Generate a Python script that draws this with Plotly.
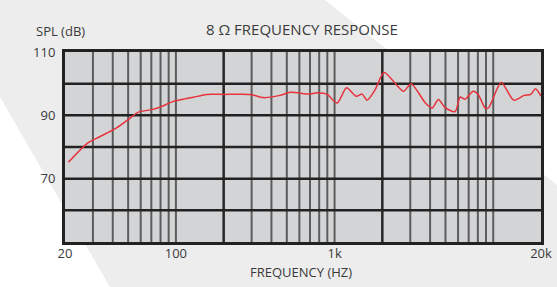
import plotly.graph_objects as go

# ---- data ----
freq_hz = [21, 27.4, 31.7, 41.3, 49, 58, 70.4, 79.4, 96.4, 114, 129, 156, 200, 294, 356, 453,
           527, 688, 776, 897, 1038, 1191, 1368, 1491, 1603, 1802, 2053, 2716, 3039, 3724,
           4122, 4516, 4978, 5754, 6188, 6652, 7475, 8036, 8933, 9355, 11220, 13460, 15670,
           17230, 18460, 20000]
spl_db = [75.2, 81.0, 82.8, 85.7, 88.3, 91.0, 91.8, 92.6, 94.4, 95.2, 95.7, 96.6, 96.6, 96.6, 95.6, 96.3,
          97.3, 96.7, 97.1, 96.6, 93.9, 98.7, 96.0, 96.7, 94.8, 98.1, 103.5, 97.6, 100.0, 94.0,
          92.3, 95.0, 92.4, 91.2, 95.8, 95.1, 97.6, 96.6, 92.2, 92.4, 100.4, 94.8, 96.3,
          96.6, 98.4, 96.1]

x_tick_vals = [20, 100, 1000, 20000]
x_tick_text = ["20", "100", "1k", "20k"]
y_tick_vals = [70, 90, 110]
minor_grid_hz = [30, 40, 50, 60, 70, 80, 90, 100, 300, 400, 500, 600, 700, 800, 900, 1000,
                 3000, 4000, 5000, 6000, 7000, 8000, 9000, 10000]
major_grid_hz = [200, 2000]
h_grid_db = [60, 70, 80, 90, 100]

TEXT = "#3a3a3a"
FONT = "Open Sans"

fig = go.Figure()
fig.add_trace(go.Scatter(
    x=freq_hz, y=spl_db, mode="lines",
    line=dict(color="#e8323c", width=1.5, shape="spline", smoothing=0.7),
    hoverinfo="skip", showlegend=False))

shapes = []
# background diagonal grey band (paper coords)
shapes.append(dict(type="path", xref="paper", yref="paper", layer="below",
                   path="M -0.1366,1.2737 L 0.5462,1.2737 L 1.0336,0.30 L 1.0336,-0.2368 L 0.0945,-0.2368 L -0.1366,0.7632 Z",
                   fillcolor="#ededed", line=dict(width=0)))
# plot area background
shapes.append(dict(type="rect", xref="paper", yref="paper", layer="below",
                   x0=0, x1=1, y0=0, y1=1, fillcolor="#d3d4d6", line=dict(width=0)))
for f in minor_grid_hz:
    shapes.append(dict(type="line", xref="x", yref="paper", x0=f, x1=f, y0=0, y1=1,
                       layer="below", line=dict(color="#5c5c5c", width=2)))
for f in major_grid_hz:
    shapes.append(dict(type="line", xref="x", yref="paper", x0=f, x1=f, y0=0, y1=1,
                       layer="below", line=dict(color="#262626", width=2.5)))
for d in h_grid_db:
    shapes.append(dict(type="line", xref="paper", yref="y", x0=0, x1=1, y0=d, y1=d,
                       layer="below", line=dict(color="#222222", width=2.5)))

fig.update_layout(
    width=557, height=287,
    margin=dict(l=65, r=16, t=52, b=45),
    paper_bgcolor="white", plot_bgcolor="rgba(0,0,0,0)",
    font=dict(family=FONT, color=TEXT, size=13),
    shapes=shapes,
    xaxis=dict(type="log", range=[1.30103, 4.30103], tickvals=x_tick_vals, ticktext=x_tick_text,
               showgrid=False, zeroline=False, ticks="", showline=True, mirror=True,
               linecolor="#222222", linewidth=3, tickfont=dict(size=13, color=TEXT),
               ticklabelstandoff=-3, automargin=False),
    yaxis=dict(range=[50, 110], tickvals=y_tick_vals, showgrid=False, zeroline=False, ticks="",
               showline=True, mirror=True, linecolor="#222222", linewidth=3,
               tickfont=dict(size=13, color=TEXT), ticklabelstandoff=4, automargin=False),
    annotations=[
        dict(text="SPL (dB)", xref="paper", yref="paper", x=-0.0095, y=1.1105, xanchor="center",
             yanchor="middle", showarrow=False, font=dict(size=13, color=TEXT)),
        dict(text="8 Ω FREQUENCY RESPONSE", xref="paper", yref="paper", x=0.498, y=1.121,
             xanchor="center", yanchor="middle", showarrow=False, font=dict(size=15, color=TEXT)),
        dict(text="FREQUENCY (HZ)", xref="paper", yref="paper", x=0.496, y=-0.158,
             xanchor="center", yanchor="middle", showarrow=False, font=dict(size=13, color=TEXT)),
    ],
)

fig.write_html("out.html", config={"displayModeBar": False},
               post_script="document.body.style.margin='0';document.body.style.padding='0';")
